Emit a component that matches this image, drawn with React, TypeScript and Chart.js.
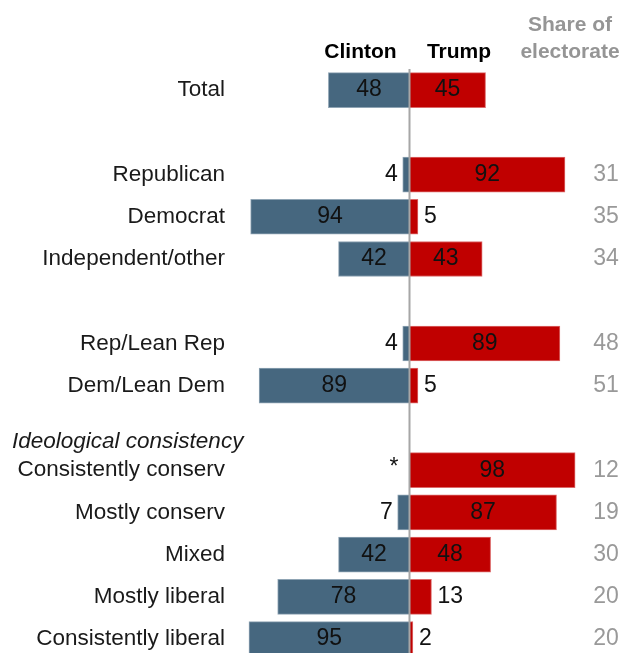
import React, { useEffect, useRef } from "react";
import { Chart, registerables } from "chart.js";
Chart.register(...registerables);

const categories = [
  "Total", "", "Republican", "Democrat", "Independent/other", "",
  "Rep/Lean Rep", "Dem/Lean Dem", "", "Consistently conserv",
  "Mostly conserv", "Mixed", "Mostly liberal", "Consistently liberal",
];
const clintonValues = [48, null, 4, 94, 42, null, 4, 89, null, 0, 7, 42, 78, 95];
const clintonLabels = ["48", "", "4", "94", "42", "", "4", "89", "", "*", "7", "42", "78", "95"];
const trumpValues = [45, null, 92, 5, 43, null, 89, 5, null, 98, 87, 48, 13, 2];
const shareOfElectorate = ["", "", "31", "35", "34", "", "48", "51", "", "12", "19", "30", "20", "20"];
const groupHeaderRow = 8;
const groupHeader = "Ideological consistency";
const seriesNames = ["Clinton", "Trump"];
const shareHeader = ["Share of", "electorate"];

const FONT = "'Liberation Sans', Arial, sans-serif";
const CLINTON_COLOR = "#46677f";
const TRUMP_COLOR = "#c00000";

export default function App() {
  const ref = useRef<HTMLCanvasElement | null>(null);

  useEffect(() => {
    const canvas = ref.current;
    if (!canvas) return;

    const labelsPlugin = {
      id: "customLabels",
      afterDatasetsDraw(chart: any) {
        const ctx = chart.ctx as CanvasRenderingContext2D;
        const xs = chart.scales.x;
        const ys = chart.scales.y;
        const zeroX = xs.getPixelForValue(0);
        ctx.save();
        // center line
        ctx.strokeStyle = "#a6a6a6";
        ctx.lineWidth = 2;
        ctx.beginPath();
        ctx.moveTo(zeroX, chart.chartArea.top);
        ctx.lineTo(zeroX, chart.height);
        ctx.stroke();

        // headers
        ctx.font = `bold 21px ${FONT}`;
        ctx.textAlign = "center";
        ctx.textBaseline = "alphabetic";
        ctx.fillStyle = "#000";
        ctx.fillText(seriesNames[0], 360.5, 58);
        ctx.fillText(seriesNames[1], 459, 58);
        ctx.fillStyle = "#959595";
        ctx.fillText(shareHeader[0], 570, 31);
        ctx.fillText(shareHeader[1], 570, 58);

        ctx.textBaseline = "middle";
        categories.forEach((cat, i) => {
          const y = ys.getPixelForValue(i);
          if (cat) {
            ctx.font = `22.5px ${FONT}`;
            ctx.textAlign = "right";
            ctx.fillStyle = "#1a1a1a";
            ctx.fillText(cat, 225, y);
          }
          ctx.font = `23px ${FONT}`;
          const cv = clintonValues[i];
          if (cv !== null && cv !== undefined) {
            const left = xs.getPixelForValue(-cv);
            ctx.fillStyle = "#111";
            if (cv >= 12) {
              ctx.textAlign = "center";
              ctx.fillText(clintonLabels[i], (left + zeroX) / 2, y);
            } else {
              ctx.textAlign = "right";
              if (clintonLabels[i] === "*") {
                ctx.fillText("*", left - 11, y - 3);
              } else {
                ctx.fillText(clintonLabels[i], left - 5, y);
              }
            }
          }
          const tv = trumpValues[i];
          if (tv !== null && tv !== undefined) {
            const right = xs.getPixelForValue(tv);
            ctx.fillStyle = "#111";
            if (tv >= 14) {
              ctx.textAlign = "center";
              ctx.fillText(String(tv), (right + zeroX) / 2, y);
            } else {
              ctx.textAlign = "left";
              ctx.fillText(String(tv), right + 6, y);
            }
          }
          if (shareOfElectorate[i]) {
            ctx.textAlign = "center";
            ctx.fillStyle = "#999999";
            ctx.fillText(shareOfElectorate[i], 606, y);
          }
        });

        ctx.font = `italic 22.5px ${FONT}`;
        ctx.textAlign = "left";
        ctx.fillStyle = "#1a1a1a";
        ctx.fillText(groupHeader, 12, ys.getPixelForValue(groupHeaderRow + 0.33));
        ctx.restore();
      },
    };

    const toPoints = (vals: (number | null)[], sign: number) =>
      vals
        .map((v, i) => (v === null ? null : { x: sign * v, y: i }))
        .filter((p) => p !== null);

    const chart = new Chart(canvas, {
      type: "bar",
      data: {
        datasets: [
          {
            label: seriesNames[0],
            data: toPoints(clintonValues, -1) as any,
            backgroundColor: CLINTON_COLOR,
            borderColor: "#8fa4b4",
            borderWidth: 1,
            barThickness: 35,
          },
          {
            label: seriesNames[1],
            data: toPoints(trumpValues, 1) as any,
            backgroundColor: TRUMP_COLOR,
            borderColor: "#dc6a6a",
            borderWidth: 1,
            barThickness: 35,
          },
        ],
      },
      options: {
        indexAxis: "y",
        responsive: false,
        animation: false,
        devicePixelRatio: 1,
        grouped: false,
        layout: { padding: { left: 240.5, right: 55.5, top: 69, bottom: 0 } },
        scales: {
          x: { type: "linear", min: -100, max: 100, display: false, offset: false },
          y: { type: "linear", min: -0.5, max: 13.33, reverse: true, display: false, offset: false },
        },
        plugins: {
          legend: { display: false },
          tooltip: { enabled: false },
        },
      } as any,
      plugins: [labelsPlugin],
    });

    return () => chart.destroy();
  }, []);

  return (
    <div style={{ position: "absolute", left: 0, top: 0 }}>
      <canvas ref={ref} width={634} height={653} style={{ display: "block" }} />
    </div>
  );
}
